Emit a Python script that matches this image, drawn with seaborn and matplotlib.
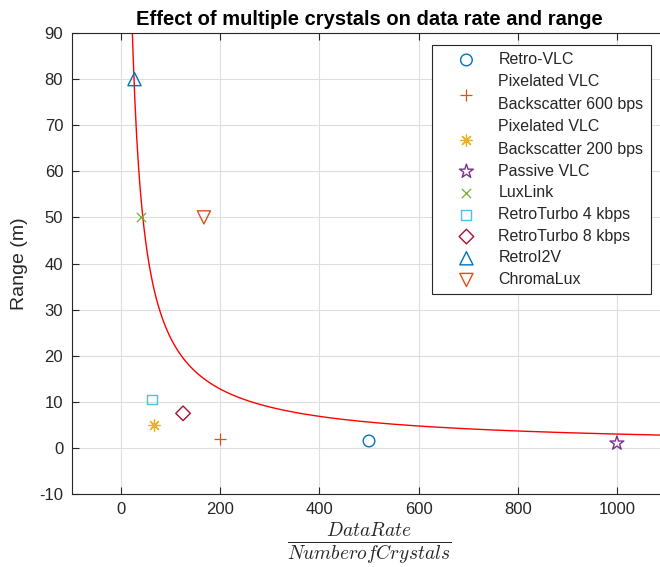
import numpy as np
import matplotlib
matplotlib.use("Agg")
import matplotlib.pyplot as plt
import seaborn as sns

# ---- data ----
labels = ["Retro-VLC", "Pixelated VLC\nBackscatter 600 bps", "Pixelated VLC\nBackscatter 200 bps",
          "Passive VLC", "LuxLink", "RetroTurbo 4 kbps", "RetroTurbo 8 kbps", "RetroI2V", "ChromaLux"]
x_vals = [500, 200, 67, 1000, 40, 62.5, 125, 27, 167]
y_vals = [1.5, 2, 5, 1, 50, 10.5, 7.5, 80, 50]
markers = ["o", "+", (8, 2, 0), "*", "x", "s", "D", "^", "v"]
colors = ["#0072BD", "#D95319", "#EDB120", "#7E2F8E", "#77AC30", "#4DBEEE", "#A2142F", "#0072BD", "#D95319"]
marker_sizes = [70, 70, 70, 110, 45, 50, 55, 90, 90]

# power-law fit curve: range = fit_a * x^(-fit_b)
fit_a = 1503.0
fit_b = 0.9
fit_x_min, fit_x_max = 22.5, 1100

sns.set_theme(style="whitegrid")
plt.rcParams["font.family"] = ["Liberation Sans", "DejaVu Sans"]
plt.rcParams["mathtext.fontset"] = "cm"
plt.rcParams["axes.unicode_minus"] = False

fig = plt.figure(figsize=(6.6, 5.67), dpi=100)
ax = fig.add_axes([71.5 / 660, 73 / 567, 595 / 660, 461 / 567])

curve_x = np.linspace(fit_x_min, fit_x_max, 600)
curve_y = fit_a * curve_x ** (-fit_b)
sns.lineplot(x=curve_x, y=curve_y, color="red", linewidth=1.0, ax=ax, legend=False)

unfilled = {"+", "x"}
for lab, xv, yv, m, c, s in zip(labels, x_vals, y_vals, markers, colors, marker_sizes):
    if m in unfilled or isinstance(m, tuple):
        sns.scatterplot(x=[xv], y=[yv], marker=m, s=s, color=c, linewidth=0.9, ax=ax, label=lab, zorder=3)
    else:
        sns.scatterplot(x=[xv], y=[yv], marker=m, s=s, facecolor="none", edgecolor=c,
                        linewidth=1.0, ax=ax, label=lab, zorder=3)

ax.set_xlim(-100, 1100)
ax.set_ylim(-10, 90)
ax.set_xticks([0, 200, 400, 600, 800, 1000])
ax.set_yticks(np.arange(-10, 91, 10))

ax.grid(True, color="#dedede", linewidth=0.8)
for sp in ax.spines.values():
    sp.set_color("#262626")
    sp.set_linewidth(0.8)
ax.tick_params(axis="both", which="both", direction="in", length=5, width=0.8,
               colors="#262626", labelsize=12, top=True, right=True, bottom=True, left=True,
               labelcolor="#262626")
ax.tick_params(axis="y", pad=6)
ax.tick_params(axis="x", pad=6)

ax.set_ylabel("Range (m)", fontsize=14, color="#262626", labelpad=8)
ax.set_xlabel(r"$\frac{DataRate}{NumberofCrystals}$", fontsize=20, color="#262626", labelpad=2)
ax.set_title("Effect of multiple crystals on data rate and range", fontsize=14.5, fontweight="bold",
             color="black", pad=6)

leg = ax.legend(loc="upper left", bbox_to_anchor=(0.606, 0.974), fontsize=11.5, frameon=True,
                fancybox=False, edgecolor="#262626", framealpha=1, borderpad=0.45,
                labelspacing=0.42, handlelength=3.4, handletextpad=0.3, borderaxespad=0)
leg.get_frame().set_linewidth(0.8)
for t in leg.get_texts():
    t.set_linespacing(1.68)
    t.set_multialignment("left")

fig.savefig("out.png", dpi=100)
